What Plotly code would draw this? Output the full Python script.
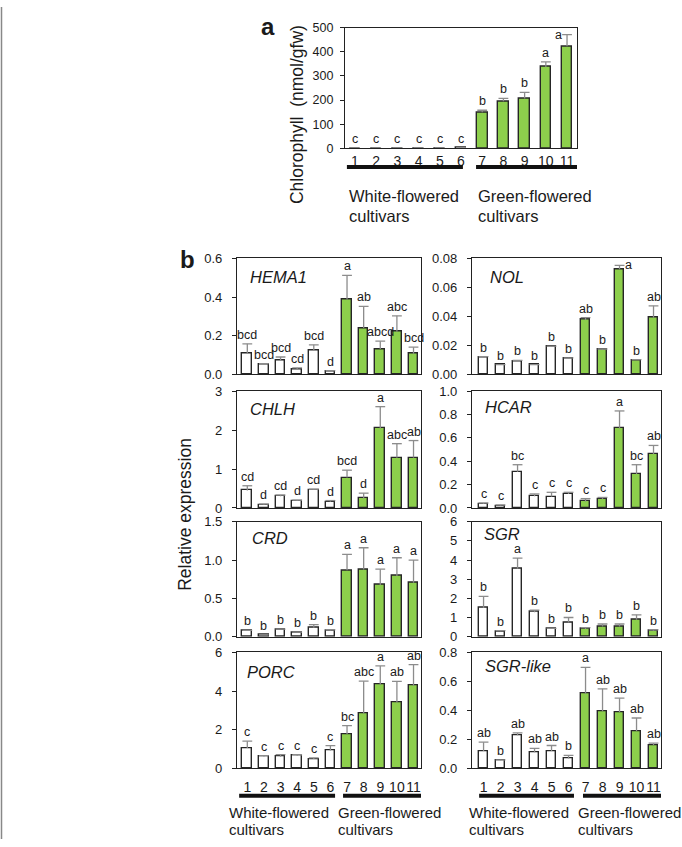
import plotly.graph_objects as go

W, H = 682, 847
FONT = 'Liberation Sans, Arial, sans-serif'
GREEN = '#8DCF4C'
WHITE = '#FFFFFF'
EDGE = '#262626'
ERRC = '#8C8C8C'
TXT = '#1a1a1a'

cultivars = list(range(1, 12))
ticktext = [str(c) for c in cultivars]

# panel a: chlorophyll (nmol/gfw)
chl_mean = [1, 1, 1, 1, 1, 2, 150, 195, 207, 337, 423]
chl_err = [1, 1, 1, 1, 1, 1, 8, 12, 25, 21, 48]
chl_sig = ['c', 'c', 'c', 'c', 'c', 'c', 'b', 'b', 'b', 'a', 'a']

# panel b: relative expression
hema1_mean = [0.110, 0.053, 0.073, 0.026, 0.124, 0.015, 0.388, 0.240, 0.131, 0.221, 0.107]
hema1_err = [0.048, 0.003, 0.017, 0.008, 0.029, 0.004, 0.124, 0.112, 0.041, 0.082, 0.034]
hema1_sig = ['bcd', 'bcd', 'bcd', 'cd', 'bcd', 'd', 'a', 'ab', 'abcd', 'abc', 'bcd']

chlh_mean = [0.45, 0.08, 0.30, 0.18, 0.46, 0.16, 0.78, 0.245, 2.04, 1.29, 1.29]
chlh_err = [0.12, 0.02, 0.03, 0.02, 0.02, 0.03, 0.19, 0.135, 0.56, 0.36, 0.44]
chlh_sig = ['cd', 'd', 'cd', 'd', 'cd', 'd', 'bcd', 'd', 'a', 'abc', 'ab']

crd_mean = [0.076, 0.020, 0.093, 0.055, 0.115, 0.080, 0.866, 0.875, 0.675, 0.790, 0.705]
crd_err = [0.005, 0.003, 0.005, 0.004, 0.042, 0.010, 0.208, 0.285, 0.205, 0.240, 0.295]
crd_sig = ['b', 'b', 'b', 'b', 'b', 'b', 'a', 'a', 'a', 'a', 'a']

porc_mean = [1.05, 0.61, 0.60, 0.65, 0.48, 0.92, 1.77, 2.84, 4.32, 3.40, 4.27]
porc_err = [0.35, 0.04, 0.11, 0.05, 0.06, 0.25, 0.44, 1.67, 0.98, 1.10, 1.10]
porc_sig = ['c', 'c', 'c', 'c', 'c', 'c', 'bc', 'abc', 'a', 'ab', 'ab']

nol_mean = [0.0117, 0.0065, 0.0092, 0.0065, 0.0191, 0.0110, 0.0376, 0.0171, 0.0725, 0.0099, 0.0390]
nol_err = [0.0005, 0.0003, 0.0004, 0.0003, 0.0004, 0.0004, 0.0016, 0.0004, 0.0027, 0.0003, 0.0083]
nol_sig = ['b', 'b', 'b', 'b', 'b', 'b', 'ab', 'b', 'a', 'b', 'ab']

hcar_mean = [0.034, 0.020, 0.309, 0.100, 0.097, 0.120, 0.055, 0.077, 0.680, 0.290, 0.460]
hcar_err = [0.008, 0.005, 0.061, 0.020, 0.037, 0.014, 0.025, 0.013, 0.150, 0.080, 0.075]
hcar_sig = ['c', 'c', 'bc', 'c', 'c', 'c', 'c', 'c', 'a', 'bc', 'ab']

sgr_mean = [1.50, 0.28, 3.55, 1.28, 0.40, 0.74, 0.40, 0.53, 0.53, 0.88, 0.31]
sgr_err = [0.60, 0.03, 0.55, 0.10, 0.03, 0.26, 0.07, 0.13, 0.13, 0.26, 0.05]
sgr_sig = ['b', 'b', 'a', 'b', 'b', 'b', 'b', 'b', 'b', 'b', 'b']

sgrl_mean = [0.119, 0.055, 0.228, 0.110, 0.119, 0.068, 0.514, 0.393, 0.388, 0.258, 0.160]
sgrl_err = [0.061, 0.003, 0.016, 0.027, 0.038, 0.021, 0.183, 0.155, 0.096, 0.089, 0.013]
sgrl_sig = ['ab', 'b', 'ab', 'ab', 'ab', 'b', 'a', 'ab', 'ab', 'ab', 'ab']


def px(x):
    return x / W


def py(y):
    return 1 - y / H


# column: (left px, right px, x range); rows: (top px, bottom px)
cols = {'L': (237, 421, [0.38, 11.45]), 'R': (472, 661, [0.32, 11.44])}
rows = [(256, 374), (391, 510), (524, 641), (657, 775)]
# (name, mean, err, sig, ymax, dtick, fmt, col, row, name offset dx, dy)
panels = [
    ('HEMA1', hema1_mean, hema1_err, hema1_sig, 0.6, 0.2, '.1f', 'L', 0, 11, 19),
    ('CHLH', chlh_mean, chlh_err, chlh_sig, 3, 1, 'd', 'L', 1, 11, 18),
    ('CRD', crd_mean, crd_err, crd_sig, 1.5, 0.5, '.1f', 'L', 2, 13, 17),
    ('PORC', porc_mean, porc_err, porc_sig, 6, 2, 'd', 'L', 3, 8, 20),
    ('NOL', nol_mean, nol_err, nol_sig, 0.08, 0.02, '.2f', 'R', 0, 16, 19),
    ('HCAR', hcar_mean, hcar_err, hcar_sig, 1.0, 0.2, '.1f', 'R', 1, 11, 16),
    ('SGR', sgr_mean, sgr_err, sgr_sig, 6, 1, 'd', 'R', 2, 10, 13),
    ('SGR-like', sgrl_mean, sgrl_err, sgrl_sig, 0.8, 0.2, '.1f', 'R', 3, 11, 14),
]

fig = go.Figure()
annotations = []
shapes = []
colors = [WHITE] * 6 + [GREEN] * 5


def note(x, y, text, size, **kw):
    d = dict(x=px(x), y=py(y), xref='paper', yref='paper', text=text, showarrow=False,
             xanchor='center', yanchor='middle', font=dict(size=size, family=FONT, color=TXT))
    d.update(kw)
    annotations.append(d)


def add_panel(i, mean, err, sig, ymax, dtick, fmt, xd, yd, xrange, barw, tickfs, show_x, xstand, ystand):
    xa = 'x' if i == 1 else f'x{i}'
    ya = 'y' if i == 1 else f'y{i}'
    tops = [m + e for m, e in zip(mean, err)]
    fig.add_trace(go.Bar(x=cultivars, y=mean, width=barw,
                         marker=dict(color=colors, line=dict(color=EDGE, width=1.4)),
                         xaxis=xa, yaxis=ya, showlegend=False))
    ex, ey = [], []
    for c, m, t in zip(cultivars, mean, tops):
        ex += [c, c, None]
        ey += [m, t, None]
    fig.add_trace(go.Scatter(x=ex, y=ey, mode='lines', line=dict(color=ERRC, width=1.3),
                             xaxis=xa, yaxis=ya, showlegend=False, hoverinfo='skip'))
    fig.add_trace(go.Scatter(x=cultivars, y=tops, mode='markers',
                             marker=dict(symbol='line-ew', size=7, line=dict(color=ERRC, width=1.3)),
                             xaxis=xa, yaxis=ya, showlegend=False, hoverinfo='skip'))
    for c, t, s in zip(cultivars, tops, sig):
        lab = dict(x=c, y=t, xref=xa, yref=ya, text=s, showarrow=False,
                   font=dict(size=12.5, family=FONT, color=TXT))
        if t > ymax * 0.9:
            # no room above the bar: put the letter beside the whisker
            lab.update(xanchor='left' if c != 11 else 'right', yanchor='middle', xshift=3 if c != 11 else -3)
        else:
            lab.update(xanchor='center', yanchor='bottom', yshift=0)
        annotations.append(lab)
    key = 'xaxis' if i == 1 else f'xaxis{i}'
    ykey = 'yaxis' if i == 1 else f'yaxis{i}'
    fig.layout[key] = dict(domain=xd, anchor=ya, range=xrange, showgrid=False, zeroline=False,
                           showline=True, mirror=True, linecolor='#222', linewidth=1.3,
                           tickmode='array', tickvals=cultivars, ticktext=ticktext, ticks='',
                           tickangle=0, ticklabelstandoff=xstand,
                           showticklabels=show_x, tickfont=dict(size=14, family=FONT, color=TXT))
    fig.layout[ykey] = dict(domain=yd, anchor=xa, range=[0, ymax], dtick=dtick, tickformat=fmt,
                            showgrid=False, zeroline=False, showline=True, mirror=True,
                            linecolor='#222', linewidth=1.3, ticks='outside', ticklen=4,
                            ticklabelstandoff=ystand,
                            tickcolor='#222', tickfont=dict(size=tickfs, family=FONT, color=TXT))


# panel a
add_panel(1, chl_mean, chl_err, chl_sig, 500, 100, 'd', [px(345), px(577)], [py(144), py(21)],
          [0.53, 11.47], 0.5, 12.5, True, 0, 4)

for k, (name, mean, err, sig, ymax, dtick, fmt, col, r, dx, dy) in enumerate(panels):
    i = k + 2
    x0, x1, xr = cols[col]
    y0, y1 = rows[r]
    add_panel(i, mean, err, sig, ymax, dtick, fmt, [px(x0), px(x1)], [py(y1), py(y0)],
              xr, 0.58, 13, r == 3, 6, 7)
    note(x0 + dx, y0 + dy, f'<i>{name}</i>', 16.5, xanchor='left')

# group underlines (in cultivar units) and group labels (pixels)
groups = [
    ('x', [(0.62, 6.09), (6.71, 11.47)], 163, [347, 476], (192, 213), 16.5),
    ('x5', [(0.51, 6.28), (6.76, 11.5)], 803, [227, 336], (820, 837), 15),
    ('x9', [(0.74, 6.32), (6.85, 11.56)], 803, [467, 576], (820, 837), 15),
]
for xa, spans, ly, xs, (t1, t2), fs in groups:
    for a, b in spans:
        shapes.append(dict(type='line', xref=xa, yref='paper', x0=a, x1=b, y0=py(ly), y1=py(ly),
                           line=dict(color='#111', width=4)))
    note(xs[0], t1, 'White-flowered', fs, xanchor='left')
    note(xs[0], t2, 'cultivars', fs, xanchor='left')
    note(xs[1], t1, 'Green-flowered', fs, xanchor='left')
    note(xs[1], t2, 'cultivars', fs, xanchor='left')

# axis titles and panel letters
note(297, 110, 'Chlorophyll  (nmol/gfw)', 17.5, textangle=-90)
note(185, 517, 'Relative expression', 17.5, textangle=-90)
note(268, 20, '<b>a</b>', 24)
note(188, 257, '<b>b</b>', 24)
shapes.append(dict(type='line', xref='paper', yref='paper', x0=px(1.5), x1=px(1.5), y0=0, y1=1,
                   line=dict(color='#888', width=1.5)))

fig.update_layout(width=W, height=H, margin=dict(l=0, r=0, t=0, b=0),
                  plot_bgcolor='white', paper_bgcolor='white', bargap=0,
                  annotations=annotations, shapes=shapes, font=dict(family=FONT))
# drop the browser's default page margin so the 682x847 figure fills the window exactly
fig.write_html('out.html', config={'displayModeBar': False},
               post_script="document.body.style.margin='0';")
